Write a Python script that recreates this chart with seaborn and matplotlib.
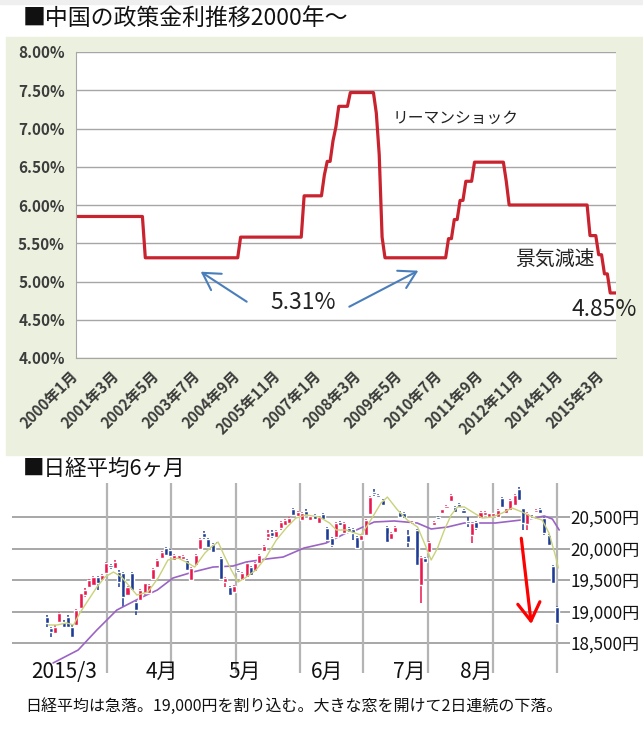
import numpy as np
import matplotlib
matplotlib.use("Agg")
import matplotlib.pyplot as plt
import matplotlib.transforms as mtransforms
from matplotlib.patches import Rectangle
import seaborn as sns

# ---- China policy rate: month index (0 = 2000/1) where the rate changes, and the new rate
rate_change_month = [0, 24, 57, 79, 86, 87, 89, 90, 91, 95, 104, 105, 106, 107,
                     129, 131, 133, 135, 138, 149, 150, 178, 181, 183, 185]
rate_change_value = [5.85, 5.31, 5.58, 6.12, 6.39, 6.57, 6.84, 7.02, 7.29, 7.47, 7.20, 6.66, 5.58, 5.31,
                     5.56, 5.81, 6.06, 6.31, 6.56, 6.31, 6.00, 5.60, 5.35, 5.10, 4.85]
n_months = 188
rate_ticks = ["2000年1月", "2001年3月", "2002年5月", "2003年7月", "2004年9月", "2005年11月",
              "2007年1月", "2008年3月", "2009年5月", "2010年7月", "2011年9月", "2012年11月",
              "2014年1月", "2015年3月"]

# ---- Nikkei 225 daily candles, 2015/3 - 2015/8
nk_open = [18918, 18733, 18665, 18840, 18840, 18918, 18760, 18786, 19050, 19260,
           19394, 19420, 19553, 19500, 19606, 19738, 19685, 19632, 19606, 19262,
           19606, 19156, 19183, 19289, 19300, 19516, 19700, 19844, 20003, 19976,
           19818, 19830, 19830, 19818, 19500, 19738, 19987, 20251, 20146, 20071,
           20093, 19855, 19473, 19394, 19315, 19659, 19500, 19553, 19701, 19648,
           19765, 19966, 20177, 20267, 20188, 20320, 20373, 20399, 20622, 20516,
           20452, 20600, 20452, 20532, 20410, 20548, 20320, 20160, 20188, 20426,
           20241, 20320, 20304, 20188, 20135, 20215, 20548, 20902, 20850, 20770,
           20347, 20146, 20267, 20585, 20558, 20215, 20389, 20294, 19421, 19855,
           19950, 20373, 20505, 20569, 20638, 20760, 20664, 20706, 20611, 20442,
           20214, 20426, 20479, 20532, 20505, 20516, 20505, 20796, 20558, 20611,
           20690, 20940, 20638, 20390, 20505, 20585, 20622, 20479, 20215, 19722,
           19077]
nk_high = [18950, 18760, 18780, 18990, 18870, 18940, 18780, 19040, 19300, 19368,
           19510, 19570, 19565, 19600, 19780, 19760, 19818, 19659, 19620, 19410,
           19630, 19170, 19360, 19460, 19440, 19690, 19830, 19965, 20020, 19990,
           19910, 19905, 19895, 19830, 19700, 19915, 20160, 20283, 20160, 20090,
           20110, 19870, 19553, 19410, 19420, 19680, 19630, 19780, 19720, 19790,
           19910, 20060, 20294, 20290, 20300, 20440, 20470, 20495, 20650, 20600,
           20575, 20620, 20530, 20550, 20510, 20570, 20340, 20175, 20415, 20440,
           20420, 20340, 20320, 20200, 20230, 20470, 20840, 20950, 20870, 20790,
           20360, 20270, 20360, 20600, 20575, 20294, 20440, 20310, 19880, 19870,
           20125, 20440, 20520, 20635, 20690, 20865, 20680, 20720, 20625, 20505,
           20415, 20440, 20600, 20600, 20570, 20570, 20625, 20815, 20650, 20785,
           20865, 20981, 20650, 20580, 20530, 20630, 20640, 20495, 20230, 19740,
           19090]
nk_low = [18760, 18601, 18650, 18820, 18740, 18740, 18575, 18770, 19040, 19236,
          19380, 19410, 19341, 19490, 19590, 19680, 19670, 19394, 19077, 19250,
          19320, 18945, 19170, 19270, 19280, 19500, 19690, 19830, 19880, 19870,
          19800, 19815, 19820, 19640, 19480, 19720, 19970, 20146, 20010, 19930,
          20050, 19500, 19394, 19240, 19300, 19610, 19490, 19540, 19560, 19630,
          19750, 19950, 20135, 20170, 20170, 20300, 20360, 20385, 20515, 20500,
          20440, 20515, 20440, 20450, 20400, 20450, 20110, 20029, 20170, 20360,
          20230, 20250, 20135, 19990, 20120, 20200, 20530, 20840, 20800, 20670,
          20090, 20130, 20250, 20490, 20465, 20029, 20375, 19720, 19130, 19770,
          19935, 20360, 20450, 20555, 20625, 20745, 20570, 20640, 20545, 20347,
          20082, 20300, 20465, 20520, 20495, 20505, 20495, 20650, 20545, 20600,
          20675, 20755, 20294, 20300, 20470, 20570, 20545, 20220, 20040, 19430,
          18800]
nk_close = [18812, 18680, 18760, 18971, 18760, 18760, 18601, 19024, 19289, 19340,
            19500, 19553, 19447, 19580, 19765, 19700, 19790, 19473, 19236, 19394,
            19341, 19024, 19341, 19447, 19420, 19670, 19818, 19950, 19897, 19880,
            19897, 19897, 19880, 19659, 19685, 19897, 20146, 20188, 20029, 19950,
            20071, 19510, 19526, 19262, 19405, 19632, 19617, 19765, 19580, 19775,
            19897, 20040, 20241, 20199, 20283, 20426, 20452, 20479, 20532, 20585,
            20558, 20532, 20516, 20463, 20495, 20463, 20135, 20056, 20399, 20373,
            20399, 20267, 20241, 20003, 20215, 20452, 20823, 20865, 20823, 20690,
            20109, 20251, 20347, 20505, 20479, 20109, 20426, 19738, 19860, 19790,
            20109, 20426, 20463, 20622, 20675, 20850, 20585, 20653, 20558, 20399,
            20399, 20320, 20585, 20585, 20558, 20558, 20611, 20664, 20638, 20770,
            20850, 20770, 20399, 20560, 20490, 20611, 20558, 20241, 20056, 19447,
            18823]

# short moving average (yellow-green) and long moving average (purple), read as points
ma_short_idx = [0.4, 2.4, 4.7, 6.3, 7.8, 9.8, 11.8, 13.7, 15.7, 17.6, 19.6, 21.2, 23.8,
                26.2, 28.5, 30.9, 33.2, 34.8, 37.2, 38.7, 40.3, 41.9, 43.4, 45.0, 46.6,
                49.2, 51.6, 54.0, 56.3, 58.6, 61.0, 64.1, 66.5, 68.1, 70.4, 73.9, 76.2,
                78.6, 80.1, 82.5, 84.8, 87.2, 88.8, 90.4, 91.9, 93.5, 95.1, 96.6, 98.2,
                100.1, 102.4, 104.8, 107.1, 109.4, 111.8, 114.2, 116.5, 118.1, 119.7, 120.3]
ma_short_val = [18786, 18786, 18818, 18786, 18977, 19183, 19389, 19548, 19627, 19548, 19389,
                19262, 19310, 19532, 19818, 19849, 19770, 19706, 19929, 20024, 20103, 19865,
                19659, 19468, 19532, 19659, 19865, 20135, 20325, 20484, 20532, 20500, 20405,
                20294, 20294, 20214, 20452, 20722, 20817, 20611, 20452, 20341, 20087, 19818,
                20008, 20294, 20532, 20659, 20659, 20579, 20484, 20500, 20563, 20643, 20579,
                20500, 20452, 20246, 19865, 19690]
ma_long_idx = [1.5, 7.4, 11.8, 16.5, 22.0, 26.0, 29.7, 34.4, 39.1, 43.8, 46.9, 51.6, 55.6,
               60.5, 65.7, 70.4, 72.8, 77.0, 81.7, 87.1, 90.4, 94.2, 98.2, 105.5, 113.5,
               117.0, 118.9, 120.5]
ma_long_val = [18183, 18389, 18707, 19024, 19215, 19341, 19532, 19627, 19706, 19722, 19786,
               19833, 19865, 20008, 20087, 20246, 20294, 20421, 20437, 20405, 20310, 20341,
               20405, 20405, 20468, 20516, 20468, 20294]

nk_levels = [18500, 19000, 19500, 20000, 20500]
month_labels = ["2015/3", "4月", "5月", "6月", "7月", "8月"]
month_label_pos = [4.1, 27.1, 46.6, 65.9, 85.2, 101.0]
period_lines = [14.2, 29.2, 44.5, 59.6, 74.4, 89.7, 105.0, 120.0]

caption = "日経平均は急落。19,000円を割り込む。大きな窓を開けて2日連続の下落。"

sns.set_style("white")
plt.rcParams["font.family"] = ["Noto Sans CJK JP", "DejaVu Sans"]

W, H = 643, 731


def fx(x):
    return x / W


def fy(y):
    return 1 - y / H


fig = plt.figure(figsize=(W / 100, H / 100), dpi=100)
fig.patch.set_facecolor("white")
# grey strip at the very top and the green panel behind the rate chart
fig.patches.append(Rectangle((0, fy(4)), 1, 1 - fy(4), transform=fig.transFigure,
                             color="#EFEFEF", zorder=-2))
fig.patches.append(Rectangle((fx(6), fy(455)), 1 - fx(6), fy(37) - fy(455),
                             transform=fig.transFigure, color="#EBF1DE", zorder=-2))

fig.text(fx(23), fy(18), "■中国の政策金利推移2000年～", fontsize=16.5, va="center", color="#111")

# ---------------- rate chart ----------------
ax1 = fig.add_axes([fx(76), fy(358), fx(616) - fx(76), fy(52) - fy(358)])
ax1.set_facecolor("white")
months = np.arange(n_months)
rate = np.repeat(rate_change_value, np.diff(rate_change_month + [n_months]))
sns.lineplot(x=months, y=rate, ax=ax1, color="#C8232F", linewidth=2.3)
ax1.set_xlim(0, n_months - 1)
ax1.set_ylim(4, 8)
yt = np.arange(4, 8.01, 0.5)
ax1.set_yticks(yt)
ax1.set_yticklabels([f"{v:.2f}%" for v in yt], fontsize=11, fontweight="bold", color="#3c3c3c")
ax1.set_xticks(months[::14])
ax1.set_xticklabels(rate_ticks, rotation=45, ha="right", va="center", rotation_mode="anchor",
                    fontsize=10.8, fontweight="bold", color="#3c3c3c")
ax1.tick_params(axis="y", length=5, color="#A6A6A6", pad=3)
ax1.tick_params(axis="x", length=5, color="#A6A6A6", pad=6)
ax1.grid(axis="y", color="#A6A6A6", linewidth=1)
ax1.set_axisbelow(True)
for s in ["top", "right"]:
    ax1.spines[s].set_visible(False)
for s in ["left", "bottom"]:
    ax1.spines[s].set_color("#A6A6A6")
ax1.set_xlabel("")
ax1.set_ylabel("")

fig.text(fx(393), fy(118), "リーマンショック", fontsize=11.3, va="center", color="#222")
fig.text(fx(515), fy(260), "景気減速", fontsize=14.3, va="center", color="#222")
fig.text(fx(270), fy(303), "5.31%", fontsize=16.5, va="center", color="#222")
fig.text(fx(572), fy(309), "4.85%", fontsize=16.5, va="center", color="#222")

blue = "#4A7EBB"
for tail, tip in [((246.7, 301.7), (200.7, 271.7)), ((349.3, 306.7), (418.3, 270.7))]:
    ax1.annotate("", xy=(fx(tip[0]), fy(tip[1])), xytext=(fx(tail[0]), fy(tail[1])),
                 xycoords="figure fraction", textcoords="figure fraction",
                 arrowprops=dict(arrowstyle="->,head_length=0.6,head_width=0.35",
                                 color=blue, lw=1.5, mutation_scale=20,
                                 shrinkA=0, shrinkB=0))

# ---------------- Nikkei chart ----------------
fig.text(fx(23), fy(469), "■日経平均6ヶ月", fontsize=15.5, va="center", color="#111")

ax2 = fig.add_axes([fx(12), fy(673), fx(566) - fx(12), fy(483) - fy(673)])
ax2.set_facecolor("white")
ax2.set_xlim(-8.16, 122.1)
ax2.set_ylim(18024, 21040)
for s in ax2.spines.values():
    s.set_visible(False)

for v in nk_levels:
    ax2.axhline(v, color="#A0A0A0", linewidth=1.3, zorder=0)
for p in period_lines:
    ax2.axvline(p, color="#B4B4B4", linewidth=1.6, zorder=0)

idx = np.arange(len(nk_open))
o = np.array(nk_open)
c = np.array(nk_close)
up = c >= o
colors = np.where(up, "#E8194F", "#1E3C96")
bottom = np.minimum(o, c)
height = np.maximum(np.abs(c - o), 22)
ax2.vlines(idx, nk_low, nk_high, colors=colors, linewidth=1.1, zorder=2)
ax2.bar(idx, height, bottom=bottom, width=0.95, color=colors, zorder=3)

sns.lineplot(x=ma_long_idx, y=ma_long_val, ax=ax2, color="#9B63C4", linewidth=1.2, zorder=2)
sns.lineplot(x=ma_short_idx, y=ma_short_val, ax=ax2, color="#C9D27A", linewidth=1.0, zorder=4)
ax2.set_xlabel("")
ax2.set_ylabel("")

ax2.set_xticks([])
ax2.yaxis.tick_right()
ax2.set_yticks(nk_levels)
ax2.set_yticklabels([f"{v:,}円" for v in nk_levels], fontsize=12.3, color="#111")
ax2.tick_params(axis="y", length=3, width=1.3, color="#A0A0A0", pad=0)

trans = mtransforms.blended_transform_factory(ax2.transData, ax2.transAxes)
for pos, lab in zip(month_label_pos, month_labels):
    ax2.text(pos, 0.005, lab, transform=trans, ha="center", va="center", fontsize=15,
             color="#111", clip_on=False)

ax2.annotate("", xy=(fx(531.3), fy(624)), xytext=(fx(521.3), fy(538.3)),
             xycoords="figure fraction", textcoords="figure fraction",
             arrowprops=dict(arrowstyle="->,head_length=0.65,head_width=0.4",
                             color="#FF0000", lw=2.3, mutation_scale=20,
                             shrinkA=0, shrinkB=0))

fig.text(fx(25), fy(706), caption, fontsize=11.5, va="center", color="#111")

fig.savefig("out.png", dpi=100)
